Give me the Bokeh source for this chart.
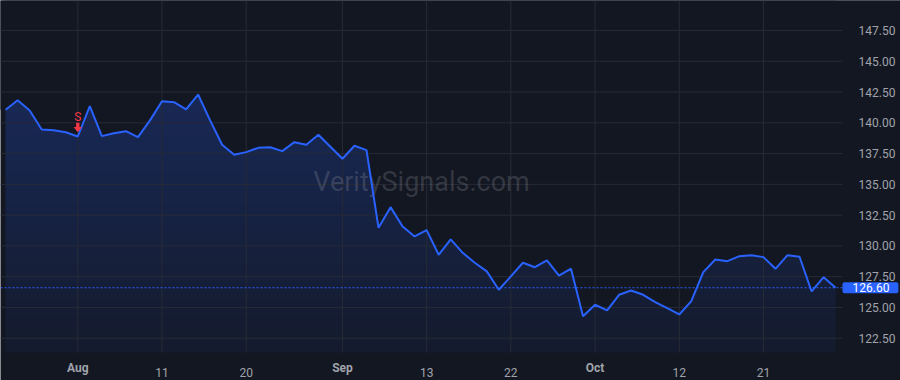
import pandas as pd
from bokeh.plotting import figure
from bokeh.models import FixedTicker, Label, PrintfTickFormatter, Range1d
from bokeh.embed import file_html
from bokeh.resources import INLINE

# ---------------- data ----------------
dates = [d for d in pd.bdate_range("2021-07-23", "2021-10-29") if d != pd.Timestamp("2021-09-06")]
close = [141.06, 141.84, 141.00, 139.46, 139.40, 139.24, 138.89, 141.35, 138.92, 139.16,
         139.32, 138.84, 140.20, 141.76, 141.68, 141.09, 142.30, 140.20, 138.22, 137.40,
         137.62, 137.97, 138.02, 137.70, 138.43, 138.22, 139.03, 138.06, 137.08, 138.14,
         137.78, 131.47, 133.15, 131.58, 130.77, 131.28, 129.28, 130.53, 129.44, 128.63,
         127.93, 126.44, 127.52, 128.63, 128.27, 128.82, 127.58, 128.15, 124.29, 125.22,
         124.76, 126.03, 126.38, 126.03, 125.43, 124.94, 124.43, 125.51, 127.87, 128.90,
         128.76, 129.17, 129.25, 129.09, 128.14, 129.25, 129.12, 126.30, 127.46, 126.60]
idx = list(range(len(close)))
tick_index = [6, 13, 20, 28, 35, 42, 49, 56, 63]
tick_labels = ["Aug", "11", "20", "Sep", "13", "22", "Oct", "12", "21"]
month_labels = ["Aug", "Sep", "Oct"]
price_ticks = [122.5, 125.0, 127.5, 130.0, 132.5, 135.0, 137.5, 140.0, 142.5, 145.0, 147.5]
signal_index = [6]
signal_text = ["S"]
watermark = "VeritySignals.com"

# ---------------- style / layout ----------------
BG = "#131722"
BLUE = "#2962FF"
RED = "#F23645"
GRID = "#272b36"
TXT = "#a0a3ab"
FONT = "Roboto"

W, H = 900, 380
PW, PH = 842, 352                 # price pane size in px
xs, xe = -0.425, 69.57            # pane x extent (bar index)
yb, yt = 121.34, 149.94           # pane y extent (price)
pxx = PW / (xe - xs)
pxy = PH / (yt - yb)
X_END = xs + W / pxx              # canvas extent
Y_START = yt - H / pxy

p = figure(width=W, height=H, output_backend="svg", toolbar_location=None,
           x_range=Range1d(xs, X_END), y_range=Range1d(Y_START, yt),
           y_axis_location="right", min_border=0,
           background_fill_color=BG, border_fill_color=BG, outline_line_color=None)
p.grid.visible = False

# gradient fill: horizontal bands, then mask above the line
def blend(a):
    b = (0x13, 0x17, 0x22)
    c = (0x29, 0x62, 0xFF)
    return "#%02x%02x%02x" % tuple(int(round(b[k] * (1 - a) + c[k] * a)) for k in range(3))

N = 60
hb = (yt - yb) / N
bottoms = [yb + k * hb for k in range(N)]
tops = [min(b + hb * 1.6, yt) for b in bottoms]
a_top, a_bot = 0.30, 0.05
cols = [blend(a_bot + (a_top - a_bot) * ((b + hb / 2 - yb) / (yt - yb))) for b in bottoms]
p.quad(left=idx[0], right=idx[-1], bottom=bottoms, top=tops, fill_color=cols,
       line_color=None, level="image")
mx = [xs - 1] + idx + [X_END + 1]
my = [close[0]] + close + [close[-1]]
p.varea(x=mx, y1=my, y2=[yt + 1] * len(mx), fill_color=BG, level="image")

# grid lines (limited to the price pane)
p.segment(x0=tick_index, x1=tick_index, y0=yb, y1=yt, line_color=GRID, line_width=1,
          level="underlay")
p.segment(x0=xs, x1=xe, y0=price_ticks, y1=price_ticks, line_color=GRID, line_width=1,
          level="underlay")

# watermark
p.add_layout(Label(x=(xs + xe) / 2, y=yt - 181 / pxy, text=watermark,
                   text_align="center", text_baseline="alphabetic", text_font=FONT,
                   text_font_size="27px", text_color="#9598a1", text_alpha=0.26,
                   level="underlay"))

# price line
p.line(idx, close, line_color=BLUE, line_width=2)

# last price line + label
p.segment(x0=xs, x1=xe, y0=close[-1], y1=close[-1], line_color=BLUE,
          line_dash="2 2", line_width=1)
p.add_layout(Label(x=xe, y=close[-1], text="%.2f" % close[-1], text_align="left",
                   text_baseline="middle", text_font=FONT, text_font_size="12px",
                   text_color="white", background_fill_color=BLUE,
                   padding=dict(left=10, right=9, top=1, bottom=1), border_radius=2))

# signal marker
for si, st in zip(signal_index, signal_text):
    tip = close[si] + 4.3 / pxy
    pts = [(0, 0), (-4.2, 5.2), (-1.7, 5.2), (-1.7, 9.4), (1.7, 9.4), (1.7, 5.2), (4.2, 5.2)]
    p.patch([si + dx / pxx for dx, dy in pts], [tip + dy / pxy for dx, dy in pts],
            fill_color=RED, line_color=None)
    p.add_layout(Label(x=si, y=tip, y_offset=15.5, text=st, text_align="center",
                       text_baseline="alphabetic", text_font=FONT, text_font_size="12px",
                       text_color=RED))

# axes (fixed at the pane edges)
xa = p.xaxis[0]
xa.fixed_location = yb
xa.ticker = FixedTicker(ticks=tick_index)
xa.major_label_overrides = {i: ("" if t in month_labels else t) for i, t in zip(tick_index, tick_labels)}
xa.axis_line_color = None
xa.major_tick_line_color = None
xa.minor_tick_line_color = None
xa.major_label_standoff = 9
xa.major_label_text_font = FONT
xa.major_label_text_font_size = "12px"
xa.major_label_text_color = TXT
for i, t in zip(tick_index, tick_labels):
    if t in month_labels:
        p.add_layout(Label(x=i, y=yb, y_offset=-15, text=t, text_align="center",
                           text_baseline="middle", text_font=FONT, text_font_size="12px",
                           text_font_style="bold", text_color=TXT))

ya = p.yaxis[0]
ya.fixed_location = xe
ya.ticker = FixedTicker(ticks=price_ticks)
ya.formatter = PrintfTickFormatter(format="%.2f")
ya.axis_line_color = None
ya.major_tick_line_color = None
ya.minor_tick_line_color = None
ya.major_label_standoff = 10
ya.major_label_text_font = FONT
ya.major_label_text_font_size = "12px"
ya.major_label_text_color = TXT

open("out.html", "w").write(file_html(p, INLINE))
